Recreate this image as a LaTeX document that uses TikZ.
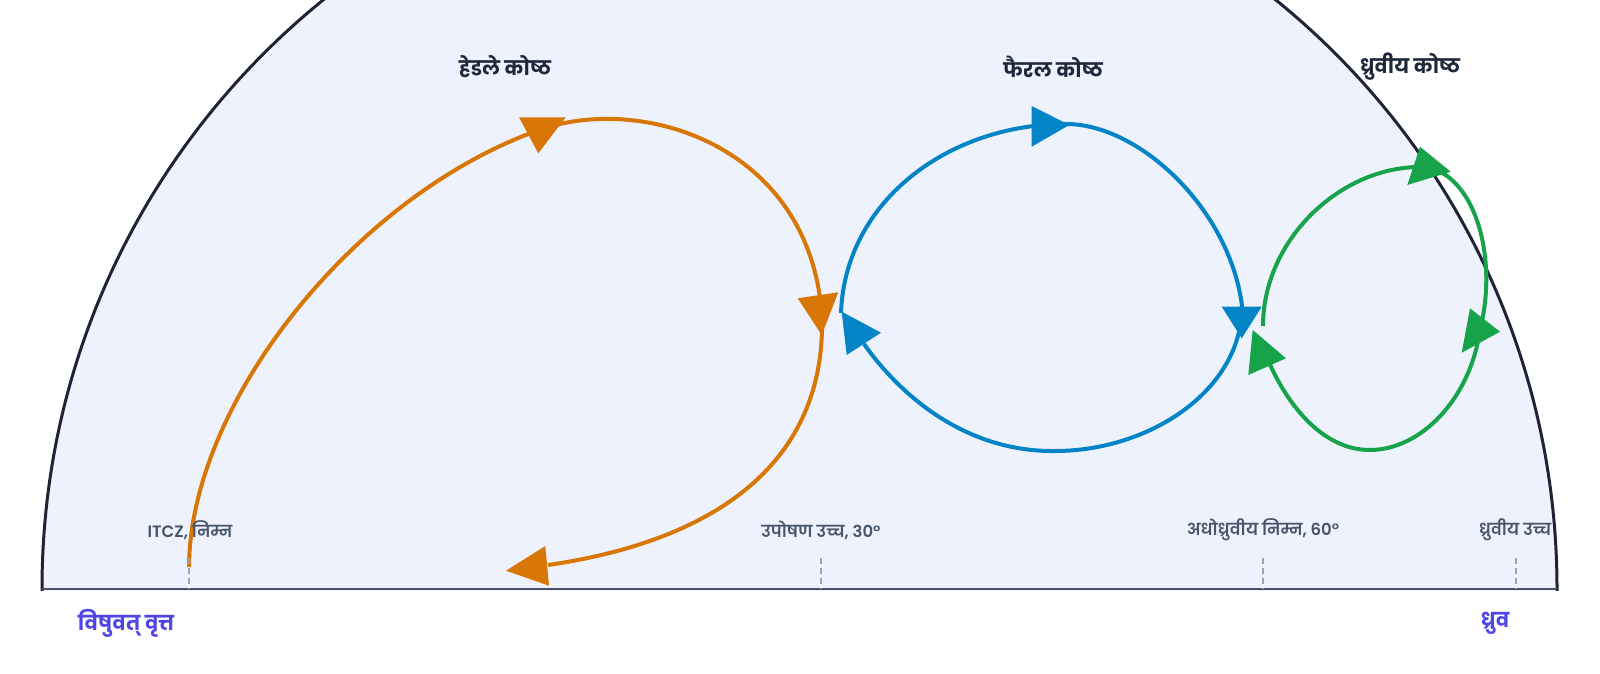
\documentclass[tikz,border=0pt]{standalone}
\usepackage{fontspec}
\newfontfamily\deva[Script=Devanagari]{Poppins}
\newfontfamily\devasemi[Script=Devanagari]{Poppins SemiBold}
\definecolor{bgfill}{HTML}{EEF2FD}
\definecolor{rimc}{HTML}{1F2335}
\definecolor{groundc}{HTML}{4A5068}
\definecolor{tickc}{HTML}{94A3B8}
\definecolor{hadc}{HTML}{D97706}
\definecolor{ferc}{HTML}{0284C7}
\definecolor{polc}{HTML}{16A34A}
\definecolor{titlec}{HTML}{1E293B}
\definecolor{labc}{HTML}{475569}
\definecolor{endc}{HTML}{4F46E5}
\tikzset{
  rim/.style={draw=rimc, line width=3pt},
  groundline/.style={draw=groundc, line width=2pt},
  tickline/.style={draw=tickc, line width=2pt, dash pattern=on 6pt off 4pt},
  cellline/.style={line width=4pt},
  celltitle/.style={font={\deva\bfseries\fontsize{20}{24}\selectfont}, text=titlec},
  zonelabel/.style={font={\devasemi\fontsize{16.5}{20}\selectfont}, text=labc},
  endlabel/.style={font={\deva\bfseries\fontsize{20.5}{24}\selectfont}, text=endc},
}
\begin{document}
\begin{tikzpicture}[x=1pt,y=-1pt]
\useasboundingbox (0,0) rectangle (1600,674);
\fill[white] (0,0) rectangle (1600,674);
\coordinate (ctr) at (799.5,589);
\begin{scope}
  \clip (0,0) rectangle (1600,590);
  \fill[bgfill] (ctr) circle[radius=757.5pt];
  \draw[rim] (ctr) circle[radius=757.5pt];
\end{scope}
\coordinate (eqL) at (42,589);
\coordinate (eqR) at (1557,589);
\draw[groundline] (eqL) -- (eqR);

% Hadley cell
\coordinate (h0) at (189,567);
\coordinate (h1) at (545,128);
\coordinate (h2) at (822,318);
\coordinate (h3) at (548,565);
\draw[cellline, draw=hadc] (h0) .. controls (190,400) and (360,190) .. (h1)
  .. controls (650,95) and (812,150) .. (h2)
  .. controls (825,460) and (720,540) .. (h3);
\fill[hadc] (519,117.3) -- (565.7,117.3) -- (538.3,153.3) -- cycle;
\fill[hadc] (797.7,298.3) -- (838.3,292.3) -- (821.7,335) -- cycle;
\fill[hadc] (506,570.7) -- (545.3,546) -- (549,585.7) -- cycle;

% Ferrel cell
\coordinate (f0) at (841,313);
\coordinate (f1) at (1066,124);
\coordinate (f2) at (1242,306);
\coordinate (f3) at (1055,451);
\coordinate (f4) at (864,344);
\draw[cellline, draw=ferc] (f0) .. controls (845,200) and (950,124) .. (f1)
  .. controls (1140,124) and (1230,210) .. (f2)
  .. controls (1242,390) and (1150,451) .. (f3)
  .. controls (965,452) and (900,395) .. (f4);
\fill[ferc] (1031.7,106) -- (1031.7,146.7) -- (1069.3,125) -- cycle;
\fill[ferc] (1221.7,306.7) -- (1261.7,306.7) -- (1241.7,338.3) -- cycle;
\fill[ferc] (841.7,311.7) -- (846.7,355) -- (881,332.7) -- cycle;

% Polar cell
\coordinate (g0) at (1263,326);
\coordinate (g1) at (1420,167);
\coordinate (g2) at (1480,330);
\coordinate (g3) at (1370,450);
\coordinate (g4) at (1268,360);
\draw[cellline, draw=polc] (g0) .. controls (1263,240) and (1340,167) .. (g1)
  .. controls (1470,167) and (1500,250) .. (g2)
  .. controls (1470,400) and (1420,450) .. (g3)
  .. controls (1320,450) and (1285,400) .. (g4);
\fill[polc] (1420,146.7) -- (1407.3,185) -- (1450.7,171.7) -- cycle;
\fill[polc] (1470,308.3) -- (1461.7,352.7) -- (1500,331.7) -- cycle;
\fill[polc] (1252.7,330) -- (1248.3,375) -- (1286,358.3) -- cycle;

% ticks
\coordinate (t1a) at (189,558); \coordinate (t1b) at (189,589);
\coordinate (t2a) at (821,558); \coordinate (t2b) at (821,589);
\coordinate (t3a) at (1263,558); \coordinate (t3b) at (1263,589);
\coordinate (t4a) at (1516,558); \coordinate (t4b) at (1516,589);
\draw[tickline] (t1a) -- (t1b);
\draw[tickline] (t2a) -- (t2b);
\draw[tickline] (t3a) -- (t3b);
\draw[tickline] (t4a) -- (t4b);

% titles
\node[celltitle] (hadley) at (505,67) {हेडले कोष्ठ};
\node[celltitle] (ferrel) at (1053,67) {फैरल कोष्ठ};
\node[celltitle] (polar) at (1410,67) {ध्रुवीय कोष्ठ};

% zone labels
\node[zonelabel] (itcz) at (190,530) {ITCZ, निम्न};
\node[zonelabel] (subhigh) at (821,530) {उपोषण उच्च, 30°};
\node[zonelabel] (sublow) at (1263,530) {अधोध्रुवीय निम्न, 60°};
\node[zonelabel] (polhigh) at (1515,530) {ध्रुवीय उच्च};

% ends
\node[endlabel] (equator) at (126,623) {विषुवत् वृत्त};
\node[endlabel] (pole) at (1495,623) {ध्रुव};
\end{tikzpicture}
\end{document}
